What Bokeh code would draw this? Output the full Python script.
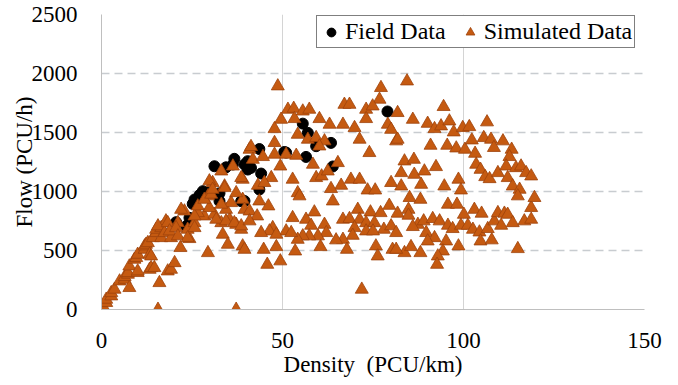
from bokeh.plotting import figure
from bokeh.models import Range1d, FixedTicker, Legend, LegendItem
from bokeh.embed import file_html
from bokeh.resources import INLINE

# ---------------- data ----------------
field_x = [20.6, 23.4, 24.3, 25.2, 25.7, 27.1, 28.0, 29.3, 32.6, 32.6, 38.6, 39.5, 43.6,
           31.2, 34.4, 36.3, 36.7, 39.5, 40.4, 41.3, 40.4, 44.1, 43.6, 50.5, 51.0,
           55.6, 57.0, 56.5, 59.3, 63.4, 63.9, 79.0]
field_y = [740, 707, 777, 895, 932, 970, 1003, 991, 918, 985, 918, 920, 1017,
           1214, 1205, 1229, 1277, 1229, 1186, 1200, 1257, 1152, 1360, 1335, 1330,
           1575, 1497, 1293, 1384, 1412, 1212, 1678]

sim_x = [
    # low-density branch
    0.4, 1.3, 1.3, 2.7, 2.7, 3.6, 5.0, 6.4, 6.4, 7.3, 7.3, 7.7, 9.1, 9.6, 10.0, 11.9, 11.9,
    12.3, 12.8, 14.2, 15.1, 15.1, 16.5, 16.5, 17.8, 17.8, 7.7, 10.0, 10.0, 13.3, 13.7, 14.6,
    13.3, 13.7, 16.0, 18.3, 15.6, 15.6, 17.4, 18.3,
    # 19-40
    19.2, 20.2, 19.2, 21.8, 24.3, 23.8, 29.4, 33.5, 34.9, 39.0, 37.2, 18.8, 21.1, 28.4, 31.2,
    33.1, 35.4, 37.2, 38.6, 29.4, 29.8, 34.4, 35.8, 39.0, 25.7, 22.9, 26.6, 33.1, 22.0, 20.6,
    21.1, 23.8, 25.7, 31.7, 34.4, 25.7, 26.6, 28.4, 30.7, 30.3, 34.0, 37.2, 36.7, 38.6, 39.0,
    39.5, 33.1, 29.8, 36.3, 38.6, 34.0, 30.7, 40.9,
    # 40-80 upper
    48.7, 67.1, 68.5, 77.2, 76.8, 51.5, 53.1, 55.6, 57.4, 49.6, 53.3, 60.2, 63.0, 66.7, 69.9,
    73.1, 74.9, 73.1, 79.1, 80.0, 47.8, 54.2, 57.0, 59.3, 61.6, 60.2, 71.3, 47.8, 41.3, 41.8,
    44.6, 47.8, 51.0, 53.8, 58.4, 65.3, 74.0, 81.4, 49.4, 46.9, 52.8, 59.3, 60.8, 62.5, 66.2,
    68.9, 71.3, 80.0, 73.5, 75.6, 63.4, 43.2, 45.0, 54.2,
    # 40-80 lower
    54.7, 63.9, 79.5, 43.6, 46.1, 40.9, 43.0, 40.9, 58.8, 52.8, 56.5, 57.9, 61.6, 66.7, 68.5,
    70.8, 71.3, 74.3, 77.1, 73.1, 75.4, 78.0, 80.0, 69.9, 73.1, 75.0, 69.4, 66.7, 64.8, 62.1,
    59.8, 57.4, 55.6, 54.2, 51.0, 52.4, 47.3, 46.4, 44.1, 48.3, 60.5, 53.5, 48.3, 44.8, 39.5,
    45.8, 49.4, 67.8, 75.8, 76.3, 80.4, 71.9,
    # 80-120 upper
    84.4, 94.5, 81.8, 86.0, 90.1, 92.0, 93.8, 96.1, 97.3, 99.8, 101.6, 106.5, 81.8, 90.9, 95.5,
    98.0, 100.4, 102.3, 105.6, 107.6, 108.4, 110.9, 113.3, 112.7, 103.2, 83.7, 86.3, 82.8, 86.4,
    89.2, 92.4, 103.5, 104.7, 106.0, 107.2, 109.5, 111.8, 114.5, 115.9, 117.3, 118.7, 112.2,
    88.3, 94.7, 98.6, 99.3, 113.6, 115.5, 82.8,
    # 80-120 lower
    85.1, 88.1, 95.7, 98.2, 103.0, 105.0, 100.1, 81.8, 84.8, 84.8, 87.4, 86.0, 89.0, 91.5, 93.4,
    95.7, 97.0, 99.3, 101.2, 102.6, 104.4, 106.7, 108.5, 109.5, 111.3, 110.4, 112.2, 113.6,
    116.8, 118.7, 118.7, 119.6, 115.0, 89.7, 92.0, 95.2, 90.1, 94.3, 92.9, 92.7, 98.6, 104.7,
    107.8, 115.0, 83.7, 85.5, 88.1, 81.4, 81.4,
]
sim_y = [
    28, 57, 85, 113, 141, 170, 240, 254, 277, 297, 311, 367, 424, 438, 466, 508, 537,
    551, 565, 607, 650, 678, 607, 692, 734, 749, 184, 311, 325, 339, 353, 353,
    466, 452, 226, 325, 0, 707, 650, 734,
    339, 395, 607, 523, 599, 678, 480, 636, 551, 537, 0, 664, 734, 791, 805,
    734, 763, 720, 678, 961, 862, 847, 904, 932, 734, 833, 819, 890, 847, 692,
    622, 607, 692, 763, 749, 791, 876, 932, 1074, 975, 1045, 988, 734, 707, 1102,
    847, 1172, 1088, 1214, 1116, 1031, 1017, 1356,
    1893, 1737, 1737, 1879, 1780, 1695, 1703, 1680, 1695, 1610, 1616, 1616, 1568, 1568, 1540,
    1695, 1723, 1616, 1568, 1525, 1531, 1483, 1441, 1455, 1427, 1384, 1441, 1413, 1379, 1271,
    1294, 1314, 1314, 1305, 1229, 1243, 1328, 1427, 1214, 1116, 1102, 1116, 1130, 1172, 1051,
    1102, 1102, 1074, 1011, 1011, 1023, 1051, 1074, 988,
    961, 918, 881, 918, 876, 833, 791, 749, 825, 777, 763, 712, 720, 763, 769,
    847, 763, 825, 819, 734, 734, 678, 707, 692, 664, 664, 627, 593, 588, 650,
    622, 622, 622, 593, 664, 650, 692, 664, 650, 636, 531, 494, 531, 508, 508,
    381, 410, 508, 537, 452, 508, 170,
    1935, 1718, 1667, 1610, 1576, 1531, 1554, 1596, 1503, 1540, 1548, 1588, 1441, 1390, 1390,
    1367, 1356, 1435, 1455, 1441, 1371, 1427, 1356, 1294, 1322, 1257, 1271, 1158, 1144,
    1172, 1209, 1229, 1186, 1124, 1107, 1158, 1214, 1200, 1214, 1158, 1130, 1116,
    1059, 1045, 1102, 1011, 1045, 1017, 1045,
    947, 932, 890, 890, 847, 814, 805, 814, 847, 797, 720, 701, 749, 769, 749,
    712, 684, 712, 712, 678, 655, 684, 749, 819, 814, 712, 805, 734,
    749, 763, 862, 947, 961, 650, 607, 579, 579, 494, 452, 381, 537, 579,
    588, 514, 480, 531, 480, 508, 650,
]

x_ticks = [0, 50, 100, 150]
y_ticks = [0, 500, 1000, 1500, 2000, 2500]

FONT = "Liberation Serif"
ORANGE = "#C55A11"

p = figure(frame_width=543, frame_height=295, output_backend="svg", toolbar_location=None,
           x_range=Range1d(0, 150), y_range=Range1d(0, 2500),
           min_border_left=101, min_border_right=25, min_border_top=14, min_border_bottom=20)
p.outline_line_color = None
p.background_fill_color = "white"
p.border_fill_color = "white"

for ax in (p.xaxis[0], p.yaxis[0]):
    ax.axis_line_color = "#BFBFBF"
    ax.major_tick_line_color = None
    ax.minor_tick_line_color = None
    ax.major_label_text_font = FONT
    ax.major_label_text_font_size = "23px"
    ax.major_label_text_color = "black"
    ax.axis_label_text_font = FONT
    ax.axis_label_text_font_size = "23px"
    ax.axis_label_text_font_style = "normal"
    ax.axis_label_text_color = "black"

p.xaxis.ticker = FixedTicker(ticks=x_ticks)
p.yaxis.ticker = FixedTicker(ticks=y_ticks)
p.xaxis.axis_label = "Density\u00a0 (PCU/km)"
p.yaxis.axis_label = "Flow (PCU/h)"
p.xaxis.major_label_standoff = 17
p.xaxis.axis_label_standoff = 1
p.yaxis.major_label_standoff = 18
p.yaxis.axis_label_standoff = -8

p.xgrid.ticker = FixedTicker(ticks=x_ticks)
p.ygrid.ticker = FixedTicker(ticks=y_ticks)
p.xgrid.grid_line_color = "#D4D4D4"
p.xgrid.grid_line_width = 1
p.ygrid.grid_line_color = "#C8CCD0"
p.ygrid.grid_line_dash = "8 5"
p.ygrid.grid_line_width = 1.3

r_field = p.scatter(field_x, field_y, marker="circle", size=11,
                    fill_color="black", line_color="black")
r_sim = p.scatter(sim_x, sim_y, marker="triangle", size=13,
                  fill_color=ORANGE, line_color="#9E420B", line_width=0.8)

legend = Legend(items=[LegendItem(label="Field Data", renderers=[r_field]),
                       LegendItem(label="Simulated Data", renderers=[r_sim])],
                orientation="horizontal", location=(215, 261))
legend.label_text_font = FONT
legend.label_text_font_size = "24px"
legend.label_text_color = "black"
legend.border_line_color = "black"
legend.border_line_width = 1
legend.background_fill_alpha = 1
legend.padding = 2
legend.margin = 0
legend.glyph_width = 24
legend.glyph_height = 22
legend.label_standoff = 2
legend.spacing = 12
legend.label_height = 22
p.add_layout(legend, "center")

open("out.html", "w").write(file_html(p, INLINE))
